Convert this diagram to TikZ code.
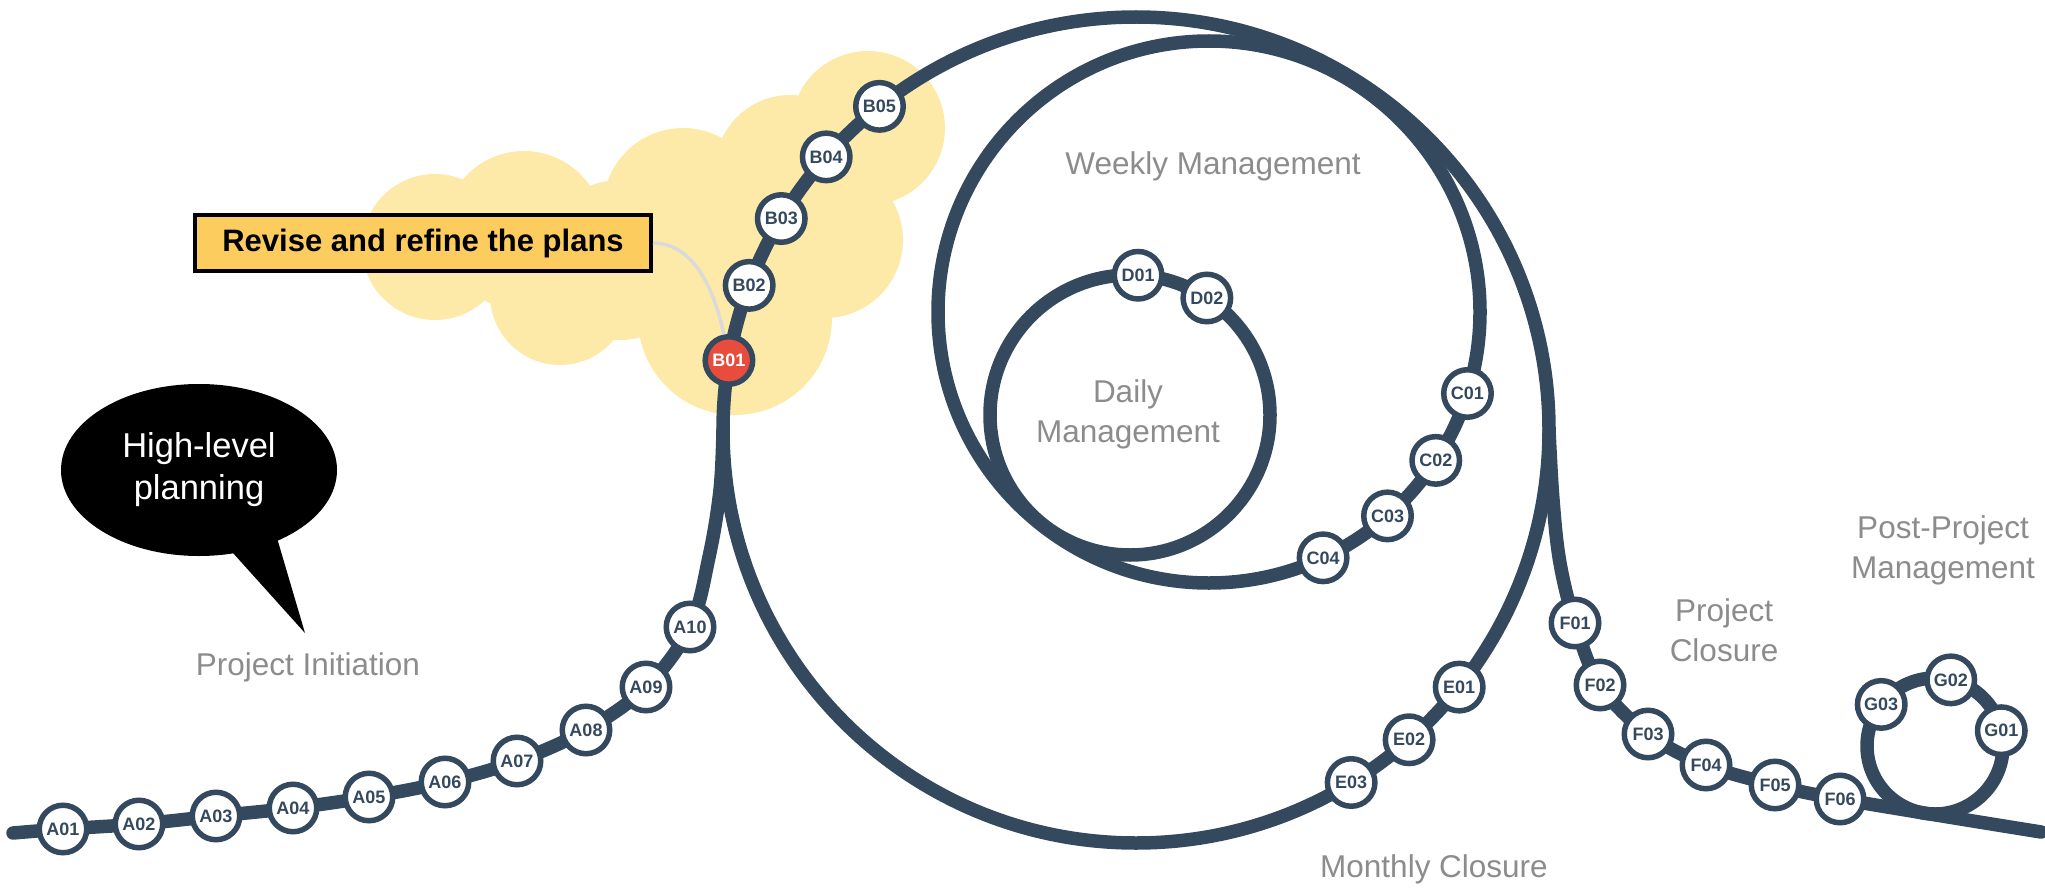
\documentclass[tikz,border=0pt]{standalone}
\usepackage{fontspec}
\setmainfont{Liberation Sans}
\usetikzlibrary{calc,shapes.geometric}
\definecolor{track}{HTML}{34495E}
\definecolor{redst}{HTML}{E74C3C}
\definecolor{cloudc}{HTML}{FEEAA8}
\definecolor{lblfill}{HTML}{FCCD5E}
\definecolor{graytxt}{HTML}{8C8C8C}
\definecolor{conn}{HTML}{DADADA}
\begin{document}
\begin{tikzpicture}[x=1pt,y=-1pt,
  trackline/.style={draw=track, line width=13.5pt},
  station/.style={circle, draw=track, fill=white, line width=5.5pt, minimum size=47.5pt, inner sep=0pt, text=track, font=\fontsize{18}{20}\selectfont\bfseries},
  hot/.style={station, fill=redst, text=white},
  phase/.style={text=graytxt, font=\fontsize{31.5}{40}\selectfont, align=center, inner sep=0pt},
]
\path[use as bounding box] (0,0) rectangle (2045,888);

% ---------- cloud ----------
\fill[cloudc] (435,247) circle[radius=73pt]
  (524,231) circle[radius=80pt]
  (683,208) circle[radius=80pt]
  (790,170) circle[radius=75pt]
  (868,128) circle[radius=77pt]
  (825,240) circle[radius=78pt]
  (735,318) circle[radius=97pt]
  (560,295) circle[radius=70pt]
  (620,260) circle[radius=80pt];

% ---------- loop centres ----------
\coordinate (Mc) at (1136,430);
\coordinate (Wc) at (1209,312);
\coordinate (Dc) at (1130,415);
\coordinate (Gc) at (1935,746);

% ---------- station positions ----------
\coordinate (Astart) at (13,833);
\coordinate (pA01) at (63,829);
\coordinate (pA02) at (139,824);
\coordinate (pA03) at (216,816);
\coordinate (pA04) at (293,808);
\coordinate (pA05) at (369,797);
\coordinate (pA06) at (445,782);
\coordinate (pA07) at (517,761);
\coordinate (pA08) at (586,730);
\coordinate (pA09) at (646,687);
\coordinate (pA10) at (690,627);
\coordinate (Ajoin) at ($(Mc)+(180:413)$);
\coordinate (pB01) at ($(Mc)+(189.7:413)$);
\coordinate (pB02) at ($(Mc)+(200.5:413)$);
\coordinate (pB03) at ($(Mc)+(210.8:413)$);
\coordinate (pB04) at ($(Mc)+(221.4:413)$);
\coordinate (pB05) at ($(Mc)+(231.6:413)$);
\coordinate (pC01) at ($(Wc)+(17.5:271)$);
\coordinate (pC02) at ($(Wc)+(33.2:271)$);
\coordinate (pC03) at ($(Wc)+(48.8:271)$);
\coordinate (pC04) at ($(Wc)+(65.1:271)$);
\coordinate (pD01) at ($(Dc)+(273.3:140)$);
\coordinate (pD02) at ($(Dc)+(303.3:140)$);
\coordinate (pE01) at ($(Mc)+(38.5:413)$);
\coordinate (pE02) at ($(Mc)+(48.6:413)$);
\coordinate (pE03) at ($(Mc)+(58.6:413)$);
\coordinate (Fjoin) at ($(Mc)+(0:413)$);
\coordinate (pF01) at (1575,623);
\coordinate (pF02) at (1600,685);
\coordinate (pF03) at (1648,734);
\coordinate (pF04) at (1706,765);
\coordinate (pF05) at (1775,785);
\coordinate (pF06) at (1840,799);
\coordinate (Fend) at (2041,832);
\coordinate (pG01) at ($(Gc)+(347:68)$);
\coordinate (pG02) at ($(Gc)+(283.4:68)$);
\coordinate (pG03) at ($(Gc)+(217.7:68)$);

% ---------- label box ----------
\node[draw=black, line width=4pt, fill=lblfill, minimum width=456pt, minimum height=56pt,
      font=\fontsize{31}{36}\selectfont\bfseries] (plans) at (423,243) {Revise and refine the plans};

% ---------- tracks ----------
\draw[trackline] (Mc) circle[radius=413pt];
\draw[trackline] (Wc) circle[radius=271pt];
\draw[trackline] (Dc) circle[radius=140pt];
\draw[trackline] (Gc) circle[radius=68pt];
\draw[trackline, line cap=round] plot[smooth, tension=0.6] coordinates {(Astart) (pA01) (pA02) (pA03) (pA04) (pA05) (pA06) (pA07) (pA08) (pA09) (pA10) (709,557) (720,490) (Ajoin)};
\draw[trackline, line cap=round] plot[smooth, tension=0.6] coordinates {(Fjoin) (1553,500) (1560,563) (pF01) (pF02) (pF03) (pF04) (pF05) (pF06) (Fend)};

% ---------- stations ----------
\foreach \s in {A01,A02,A03,A04,A05,A06,A07,A08,A09,A10,B02,B03,B04,B05,C01,C02,C03,C04,D01,D02,E01,E02,E03,F01,F02,F03,F04,F05,F06,G01,G02,G03}
  \node[station] (\s) at (p\s) {\s};
\node[hot] (B01) at (pB01) {B01};

\draw[conn, line width=3.5pt] (plans.east) .. controls +(45,0) and +(-12,-60) .. (B01);

% ---------- speech bubble ----------
\node[ellipse, fill=black, minimum width=276pt, minimum height=172pt, inner sep=0pt,
      text=white, align=center, font=\fontsize{34.5}{42}\selectfont] (bubble) at (199,470) {High-level\\planning};
\fill[black] (233,553) -- (305,633) -- (277,538) -- cycle;

% ---------- phase labels ----------
\node[phase, anchor=base] (pinit) at (308,675) {Project Initiation};
\node[phase, anchor=base] (pweek) at (1213,175) {Weekly Management};
\node[phase] (pday) at (1128,414) {Daily\\Management};
\node[phase, anchor=base] (pmonth) at (1434,877) {Monthly Closure};
\node[phase] (pclose) at (1724,630) {Project\\Closure};
\node[phase] (ppost) at (1943,550) {Post-Project\\Management};
\end{tikzpicture}
\end{document}
